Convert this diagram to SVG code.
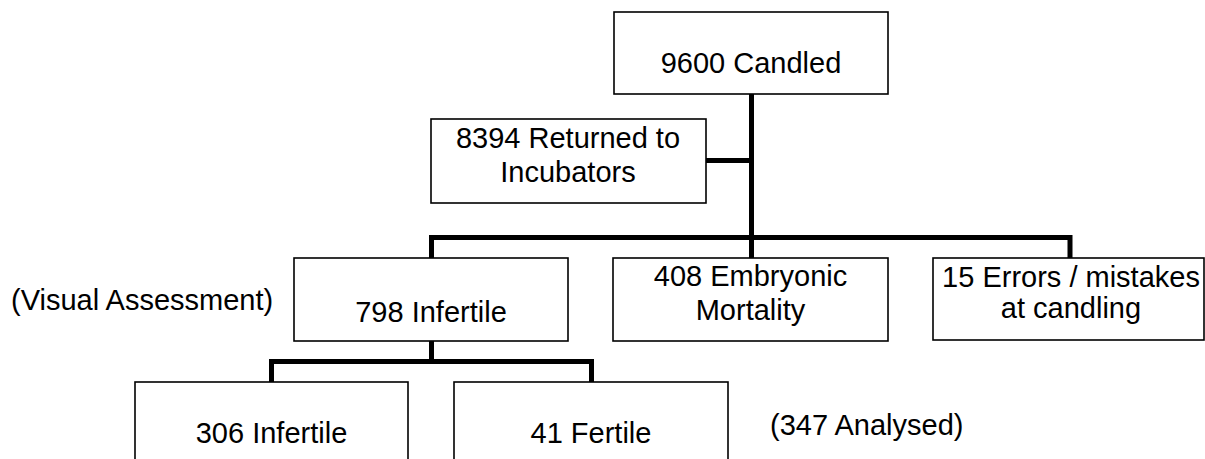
<svg xmlns="http://www.w3.org/2000/svg" width="1205" height="459" viewBox="0 0 1205 459">
  <style>
    .box { fill: #ffffff; stroke: #000000; stroke-width: 1.6; }
    .lbl { font-family: "Liberation Sans", Arial, sans-serif; font-size: 29px; fill: #000000; }
    .mid { text-anchor: middle; }
    .link { fill: none; stroke: #000000; stroke-width: 5; stroke-linejoin: miter; }
  </style>
  <rect width="1205" height="459" fill="#ffffff"/>

  <!-- connectors -->
  <g id="connectors">
    <path class="link" d="M751.5 94 V258"/>
    <path class="link" d="M706 160.5 H751.5"/>
    <path class="link" d="M431.5 258 V237.5 H1070 V258"/>
    <path class="link" d="M431.5 341 V361.5"/>
    <path class="link" d="M271.5 382 V361.5 H591.5 V382"/>
  </g>

  <g id="candled">
    <rect class="box" x="614" y="12" width="274" height="82"/>
    <text class="lbl mid" x="751" y="73">9600 Candled</text>
  </g>

  <g id="returned">
    <rect class="box" x="431" y="119" width="275" height="84"/>
    <text class="lbl mid" x="568" y="148">8394 Returned to</text>
    <text class="lbl mid" x="568" y="182">Incubators</text>
  </g>

  <g id="infertile-visual">
    <rect class="box" x="294" y="258" width="274" height="83"/>
    <text class="lbl mid" x="431" y="322">798 Infertile</text>
  </g>

  <g id="visual-note">
    <text class="lbl" x="11" y="310">(Visual Assessment)</text>
  </g>

  <g id="mortality">
    <rect class="box" x="613" y="258" width="275" height="83"/>
    <text class="lbl mid" x="750.5" y="286">408 Embryonic</text>
    <text class="lbl mid" x="750.5" y="320">Mortality</text>
  </g>

  <g id="errors">
    <rect class="box" x="933" y="258" width="271" height="82"/>
    <text class="lbl mid" x="1071" y="287">15 Errors / mistakes</text>
    <text class="lbl mid" x="1071" y="318">at candling</text>
  </g>

  <g id="infertile">
    <rect class="box" x="135" y="382" width="273" height="90"/>
    <text class="lbl mid" x="271.5" y="443">306 Infertile</text>
  </g>

  <g id="fertile">
    <rect class="box" x="454" y="382" width="274" height="90"/>
    <text class="lbl mid" x="591" y="443">41 Fertile</text>
  </g>

  <g id="analysed-note">
    <text class="lbl" x="770" y="435">(347 Analysed)</text>
  </g>
</svg>
